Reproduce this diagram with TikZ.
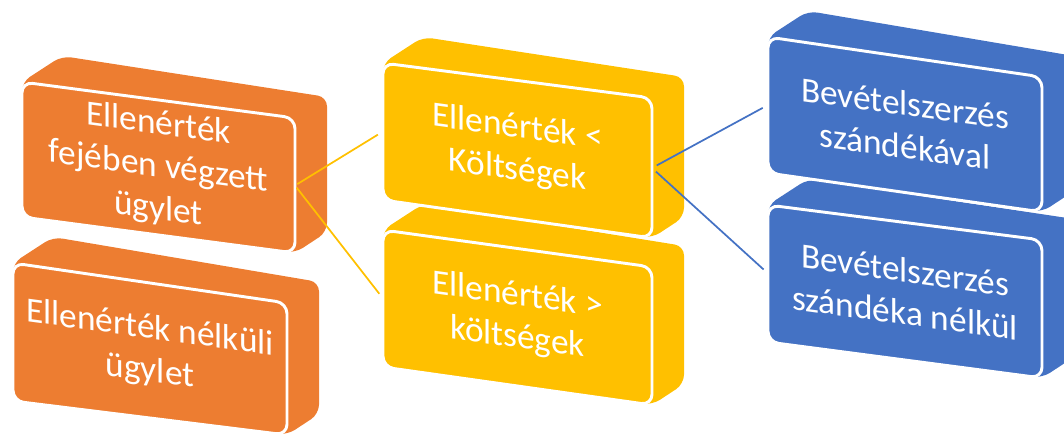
\documentclass[tikz,border=0pt]{standalone}
\usepackage{fontspec}
\setmainfont{Carlito}
\definecolor{orng}{HTML}{ED7D31}
\definecolor{gold}{HTML}{FFC000}
\definecolor{blu}{HTML}{4472C4}
\tikzset{
  boxtext/.style={text=white, align=center, font=\fontsize{26.5}{32}\selectfont, inner sep=0pt, yslant=-0.137},
  link/.style={line width=1.3pt},
}
% #1 name, #2 colour, #3 x left, #4 x right, #5 y TL, #6 y TR, #7 y BR, #8 y BL, #9 text
\newcommand\threedbox[9]{%
  \fill[#2, rounded corners=7pt] (#3,#5) -- ({#3+40},{#5-26}) -- ({#4+32},{#6-21}) -- ({#4+32},{#7-21}) -- (#4,#7) -- (#3,#8) -- cycle;
  \draw[fill=#2, draw=white, line width=2.2pt, rounded corners=8pt] (#3,#5) -- (#4,#6) -- (#4,#7) -- (#3,#8) -- cycle;
  \node[boxtext] (#1) at ({(#3+#4)/2},{(#5+#6+#7+#8)/4}) {#9};
  \coordinate (#1-l) at (#3,{(#5+#8)/2});
  \coordinate (#1-r) at (#4,{(#6+#7)/2});
}
\begin{document}
\begin{tikzpicture}[x=0.75pt, y=-0.75pt]
\useasboundingbox (0,0) rectangle (1064,437);
\threedbox{o2}{orng}{13}{287}{263}{303}{435}{401}{Ellenérték nélküli\\ügylet}
\threedbox{o1}{orng}{22}{295}{82}{118}{253}{217}{Ellenérték\\fejében végzett\\ügylet}
\threedbox{y2}{gold}{383}{652}{230}{267}{405}{367}{Ellenérték >\\költségek}
\threedbox{y1}{gold}{383}{652}{63}{98}{238}{200}{Ellenérték <\\Költségek}
\threedbox{b2}{blu}{768}{1042}{205}{240}{378}{342}{Bevételszerzés\\szándéka nélkül}
\threedbox{b1}{blu}{768}{1042}{37}{77}{212}{173}{Bevételszerzés\\szándékával}
\draw[link, gold, shorten <=2pt, shorten >=4.5pt] (o1-r) -- (y1-l);
\draw[link, gold, shorten <=2pt, shorten >=4.5pt] (o1-r) -- (y2-l);
\draw[link, blu, shorten <=4pt, shorten >=4.5pt] (y1-r) -- (b1-l);
\draw[link, blu, shorten <=4pt, shorten >=4.5pt] (y1-r) -- (b2-l);
\end{tikzpicture}
\end{document}
